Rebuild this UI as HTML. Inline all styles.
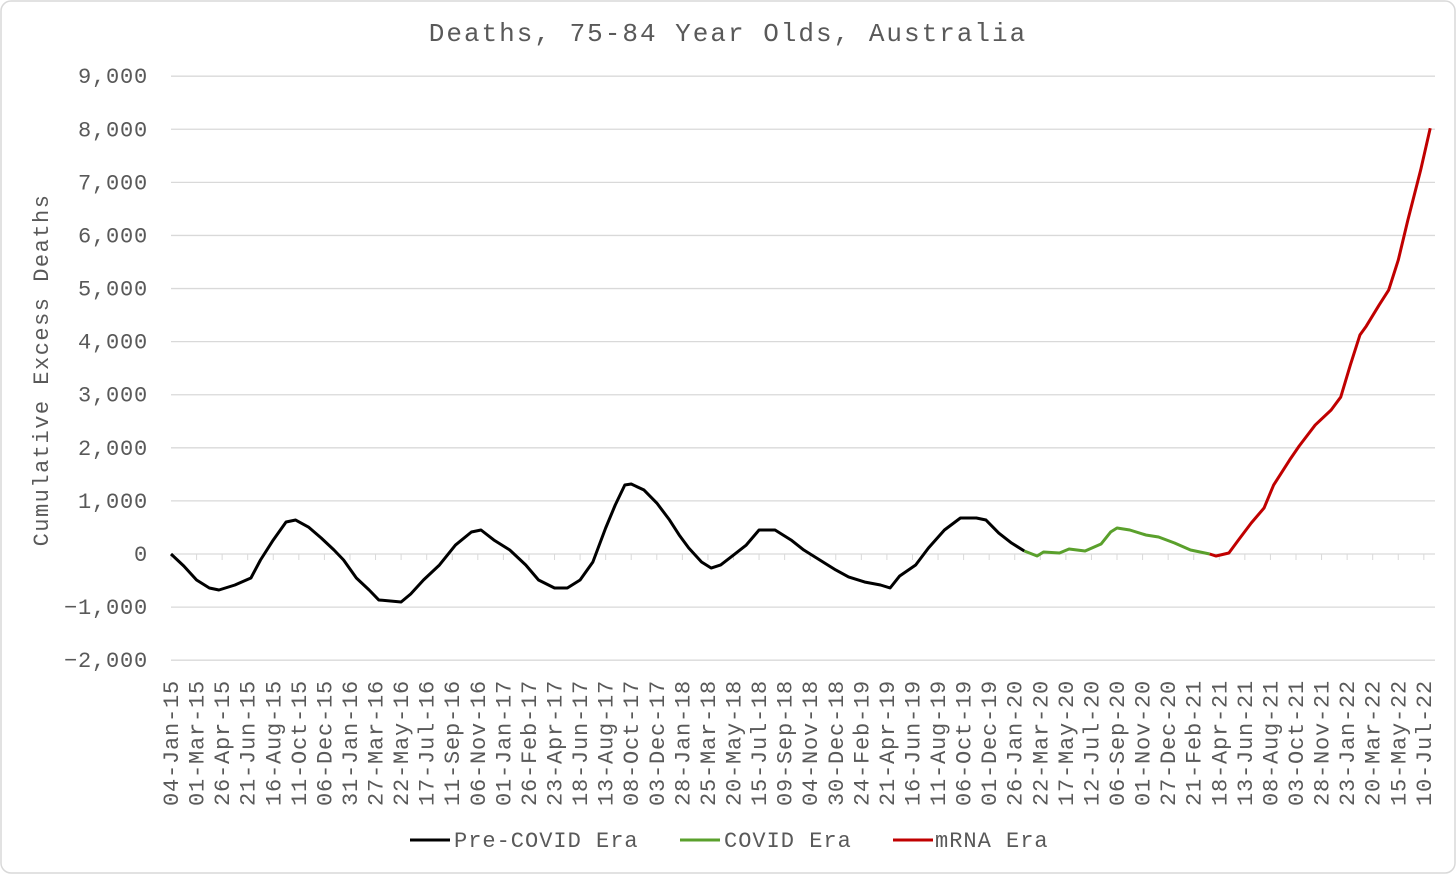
<!DOCTYPE html>
<html><head><meta charset="utf-8"><style>
body{margin:0;background:#fff}
svg text{font-family:"Liberation Mono","DejaVu Sans Mono",monospace;fill:#595959}
</style></head><body>
<svg width="1456" height="874" viewBox="0 0 1456 874" xmlns="http://www.w3.org/2000/svg">
<rect x="1" y="1" width="1454" height="872" rx="10" fill="#fff" stroke="#d9d9d9" stroke-width="1.5"/>
<text x="728" y="41" text-anchor="middle" font-size="26" letter-spacing="2">Deaths, 75-84 Year Olds, Australia</text>
<text transform="translate(48,370) rotate(-90)" text-anchor="middle" font-size="22" letter-spacing="1.5">Cumulative Excess Deaths</text>
<g id="grid"></g><g id="ylab"></g><g id="xlab"></g><g id="series"></g>
<g>
<line x1="410" y1="840" x2="450" y2="840" stroke="#000" stroke-width="3"/>
<text x="454" y="847" font-size="22" letter-spacing="1">Pre-COVID Era</text>
<line x1="680" y1="840" x2="720" y2="840" stroke="#5aa02c" stroke-width="3"/>
<text x="724" y="847" font-size="22" letter-spacing="1">COVID Era</text>
<line x1="893" y1="840" x2="933" y2="840" stroke="#c00000" stroke-width="3"/>
<text x="935" y="847" font-size="22" letter-spacing="1">mRNA Era</text>
</g>
</svg>
<script>
const yTicks=[-2000,-1000,0,1000,2000,3000,4000,5000,6000,7000,8000,9000];
const xLabels=["04-Jan-15","01-Mar-15","26-Apr-15","21-Jun-15","16-Aug-15","11-Oct-15","06-Dec-15","31-Jan-16","27-Mar-16","22-May-16","17-Jul-16","11-Sep-16","06-Nov-16","01-Jan-17","26-Feb-17","23-Apr-17","18-Jun-17","13-Aug-17","08-Oct-17","03-Dec-17","28-Jan-18","25-Mar-18","20-May-18","15-Jul-18","09-Sep-18","04-Nov-18","30-Dec-18","24-Feb-19","21-Apr-19","16-Jun-19","11-Aug-19","06-Oct-19","01-Dec-19","26-Jan-20","22-Mar-20","17-May-20","12-Jul-20","06-Sep-20","01-Nov-20","27-Dec-20","21-Feb-21","18-Apr-21","13-Jun-21","08-Aug-21","03-Oct-21","28-Nov-21","23-Jan-22","20-Mar-22","15-May-22","10-Jul-22"];
const preWeeks=[0,4,8,12,15,20,25,28,32,36,39,43,47,51,54,58,62,65,72,75,79,84,89,94,97,101,106,111,115,120,124,128,132,136,139,142,144,148,152,156,159,162,166,169,172,176,180,184,189,194,198,203,208,212,217,222,225,228,233,237,242,247,252,255,259,263,267];
const preValues=[0,-226,-490,-640,-678,-584,-452,-113,264,603,640,508,301,75,-113,-452,-678,-866,-904,-753,-490,-207,169,414,452,264,75,-207,-490,-640,-640,-490,-151,490,923,1300,1318,1205,960,640,358,113,-151,-264,-207,-19,169,452,452,264,75,-113,-301,-433,-527,-584,-640,-414,-207,113,452,678,678,640,395,207,56];
const covidWeeks=[267,271,273,278,281,286,291,294,296,300,305,309,314,319,325];
const covidValues=[56,-38,38,19,94,56,188,414,490,452,358,320,207,75,0];
const mrnaWeeks=[325,327,331,334,338,342,345,350,353,358,363,366,369,372,374,378,381,384,387,391,394];
const mrnaValues=[0,-38,19,264,584,866,1299,1770,2034,2429,2712,2956,3559,4124,4293,4689,4971,5536,6289,7230,8021];
const NS="http://www.w3.org/2000/svg";
const X0=171,PXW=3.196,Y0=554,PXV=0.05309;
const xs=w=>X0+w*PXW, ys=v=>Y0-v*PXV;
function mk(t,a,p){const e=document.createElementNS(NS,t);for(const k in a)e.setAttribute(k,a[k]);p.appendChild(e);return e;}
const grid=document.getElementById('grid'),yl=document.getElementById('ylab'),xl=document.getElementById('xlab'),se=document.getElementById('series');
yTicks.forEach(v=>{
 const l=mk('line',{x1:X0,x2:1435,y1:ys(v),y2:ys(v),stroke:'#d9d9d9','stroke-width':1.3},grid);
 
 
 const t=mk('text',{x:148,y:ys(v)+7,'text-anchor':'end','font-size':22,'letter-spacing':0.8},yl);
 t.textContent=(v<0?'\u2212':'')+Math.abs(v).toLocaleString('en-US');
 
 
});
xLabels.forEach((s,i)=>{
 const x=xs(i*8);
 const tk=mk('line',{x1:x,x2:x,y1:Y0,y2:Y0+6,stroke:'#d9d9d9','stroke-width':1},grid);
 
 
 const t=mk('text',{transform:`translate(${x+7},${806}) rotate(-90)`,'font-size':22,'letter-spacing':0.8},xl);
 t.textContent=s;
 
 
});
function line(w,v,c,n){
 const p=mk('polyline',{points:w.map((d,i)=>xs(d)+','+ys(v[i])).join(' '),fill:'none',stroke:c,'stroke-width':3,'stroke-linejoin':'round'},se);
 
 
}
line(preWeeks,preValues,'#000','pre-covid-line');
line(covidWeeks,covidValues,'#5aa02c','covid-line');
line(mrnaWeeks,mrnaValues,'#c00000','mrna-line');
</script>
</body></html>
